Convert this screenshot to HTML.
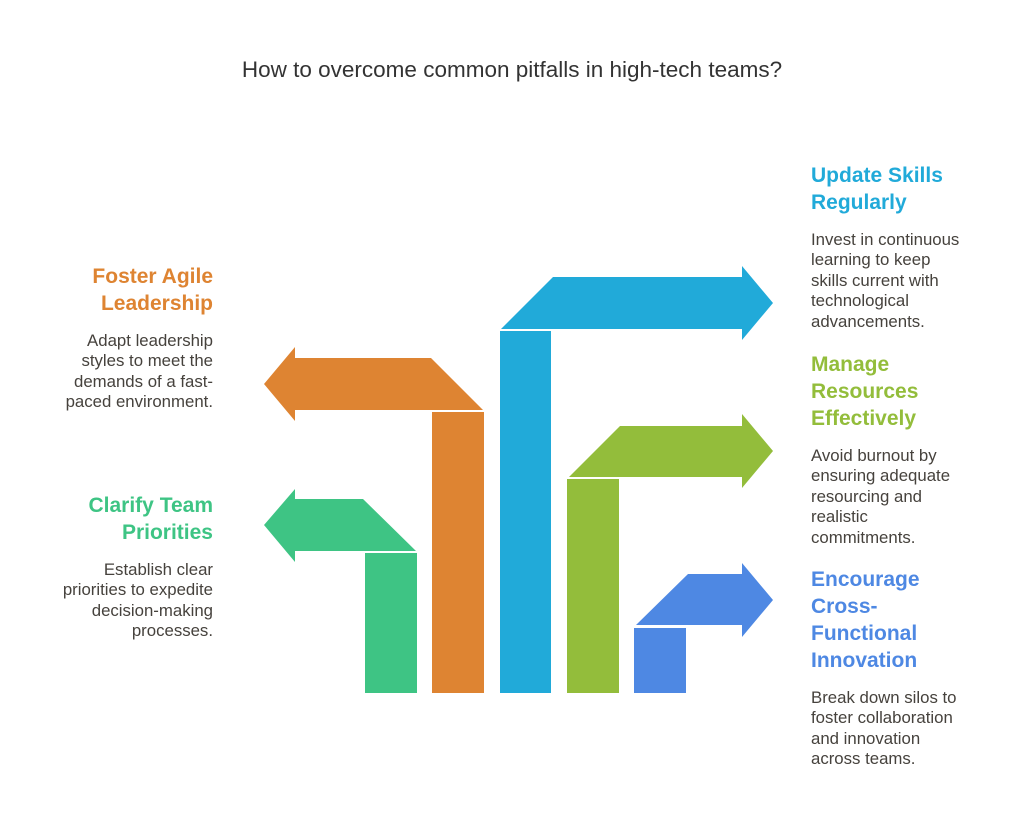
<!DOCTYPE html>
<html><head><meta charset="utf-8"><style>
body{margin:0;width:1024px;height:822px;background:#fff;font-family:"Liberation Sans",sans-serif;position:relative;overflow:hidden}
.t{position:absolute;left:0;width:1024px;top:57px;text-align:center;font-size:22.5px;color:#333}
.b{position:absolute;width:200px}
.l{text-align:right;left:13px}
.r{text-align:left;left:811px}
.h{font-weight:bold;font-size:21px;line-height:27px}
.p{font-size:16.8px;line-height:20.4px;color:#46423d;margin-top:14px}
</style></head><body>
<div class="t">How to overcome common pitfalls in high-tech teams?</div>
<svg width="1024" height="822" style="position:absolute;left:0;top:0">
<g fill="#3EC484"><rect x="365" y="553" width="52" height="140"/><polygon points="416,551 363,499 295,499 295,489 264,525 295,562 295,551"/></g>
<g fill="#DE8432"><rect x="432" y="412" width="52" height="281"/><polygon points="483,410 431,358 295,358 295,347 264,384 295,421 295,410"/></g>
<g fill="#21AAD9"><rect x="500" y="331" width="51" height="362"/><polygon points="501,329 553,277 742,277 742,266 773,303 742,340 742,329"/></g>
<g fill="#93BD3B"><rect x="567" y="479" width="52" height="214"/><polygon points="569,477 620,426 742,426 742,414 773,451 742,488 742,477"/></g>
<g fill="#4E88E3"><rect x="634" y="628" width="52" height="65"/><polygon points="636,625 688,574 742,574 742,563 773,600 742,637 742,625"/></g>
</svg>
<div class="b l" style="top:263px"><div class="h" style="color:#DE8432">Foster Agile<br>Leadership</div><div class="p">Adapt leadership<br>styles to meet the<br>demands of a fast-<br>paced environment.</div></div>
<div class="b l" style="top:492px"><div class="h" style="color:#3EC484">Clarify Team<br>Priorities</div><div class="p">Establish clear<br>priorities to expedite<br>decision-making<br>processes.</div></div>
<div class="b r" style="top:162px"><div class="h" style="color:#21AAD9">Update Skills<br>Regularly</div><div class="p">Invest in continuous<br>learning to keep<br>skills current with<br>technological<br>advancements.</div></div>
<div class="b r" style="top:351px"><div class="h" style="color:#93BD3B">Manage<br>Resources<br>Effectively</div><div class="p">Avoid burnout by<br>ensuring adequate<br>resourcing and<br>realistic<br>commitments.</div></div>
<div class="b r" style="top:566px"><div class="h" style="color:#4E88E3">Encourage<br>Cross-<br>Functional<br>Innovation</div><div class="p">Break down silos to<br>foster collaboration<br>and innovation<br>across teams.</div></div>
</body></html>
